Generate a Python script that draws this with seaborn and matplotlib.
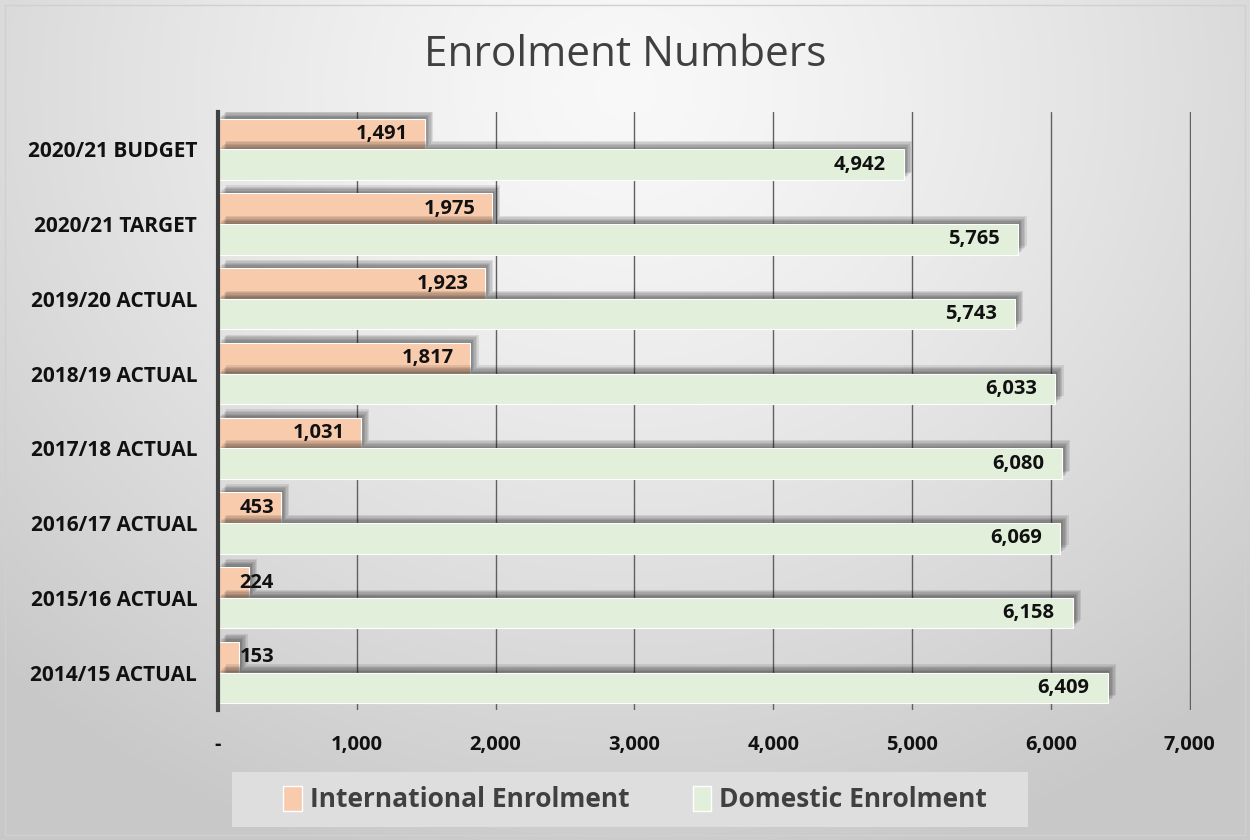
import numpy as np
import pandas as pd
import matplotlib
matplotlib.use("Agg")
import matplotlib.pyplot as plt
import matplotlib.patheffects as pe
from matplotlib.patches import Patch, Rectangle
import seaborn as sns

categories = ["2020/21 BUDGET", "2020/21 TARGET", "2019/20 ACTUAL", "2018/19 ACTUAL",
              "2017/18 ACTUAL", "2016/17 ACTUAL", "2015/16 ACTUAL", "2014/15 ACTUAL"]
international = [1491, 1975, 1923, 1817, 1031, 453, 224, 153]
domestic = [4942, 5765, 5743, 6033, 6080, 6069, 6158, 6409]
series_names = ["International Enrolment", "Domestic Enrolment"]
x_ticks = [0, 1000, 2000, 3000, 4000, 5000, 6000, 7000]
x_ticklabels = ["-", "1,000", "2,000", "3,000", "4,000", "5,000", "6,000", "7,000"]

colors = ["#F8CBAD", "#E2EFDA"]

df = pd.DataFrame({
    "cat": categories * 2,
    "value": international + domestic,
    "series": [series_names[0]] * len(categories) + [series_names[1]] * len(categories),
})

sns.set_style("white")
plt.rcParams["font.family"] = ["Open Sans", "DejaVu Sans"]

fig = plt.figure(figsize=(12.5, 8.4), dpi=100)

# background radial gradient
bg = fig.add_axes([0, 0, 1, 1], zorder=-10)
h, w = 840, 1250
yy, xx = np.mgrid[0:h, 0:w]
r = np.sqrt(((xx - 625) / 1.0) ** 2 + ((yy - 90) / 0.9) ** 2)
v = 0.975 - 0.19 * np.clip(r / 900, 0, 1) ** 1.3
img = np.dstack([v, v, v])
bg.imshow(img, extent=[0, 1, 0, 1], aspect="auto", origin="upper")
bg.set_axis_off()
bg.set_xlim(0, 1)
bg.set_ylim(0, 1)
bg.add_patch(Rectangle((0.004, 0.006), 0.992, 0.988, fill=False, edgecolor="#d0d0d0", lw=1.0,
                       transform=bg.transAxes))
# legend background box
bg.add_patch(Rectangle((0.1856, 0.0155), 0.6368, 0.0655, facecolor="#dedede", edgecolor="none",
                       transform=bg.transAxes, zorder=5))

ax = fig.add_axes([0.1744, 0.1548, 0.7784, 0.7119])
ax.patch.set_alpha(0)

sns.barplot(data=df, y="cat", x="value", hue="series", order=categories,
            hue_order=series_names, palette=colors, orient="h", ax=ax,
            width=0.82, saturation=1, legend=False, edgecolor="white", linewidth=0.8)

shadow = [pe.SimplePatchShadow(offset=(o, o), shadow_rgbFace="#000000", alpha=0.09) for o in (1, 2, 3, 4, 5, 6)]
for p in ax.patches:
    p.set_path_effects(shadow + [pe.Normal()])
    p.set_zorder(3)

ax.set_xlim(0, 7010)
ax.set_ylim(7.5, -0.5)
ax.set_xticks(x_ticks)
ax.set_xticklabels(x_ticklabels, fontsize=14.5, fontweight="bold", color="#111111")
ax.tick_params(axis="x", length=9, width=1.0, color="#555555", pad=9, direction="out")
ax.tick_params(axis="y", length=0, pad=15)
for lab in ax.get_yticklabels():
    lab.set_fontsize(15)
    lab.set_fontweight("bold")
    lab.set_color("#111111")
ax.set_xlabel("")
ax.set_ylabel("")
ax.xaxis.grid(True, color="#606060", lw=1.0, zorder=0)
ax.set_axisbelow(True)
for s in ["top", "right", "bottom"]:
    ax.spines[s].set_visible(False)
ax.spines["left"].set_color("#404040")
ax.spines["left"].set_linewidth(3)
ax.spines["left"].set_zorder(5)

# data labels
bw = 0.41
fs = 14.5
for i, val in enumerate(international):
    yc = i - bw / 2
    if val < 700:
        ax.text(155, yc, f"{val:,}", ha="left", va="center", fontsize=fs, fontweight="bold", color="#111111", zorder=6)
    else:
        ax.text(val - 120, yc, f"{val:,}", ha="right", va="center", fontsize=fs, fontweight="bold", color="#111111", zorder=6)
for i, val in enumerate(domestic):
    yc = i + bw / 2
    ax.text(val - 130, yc, f"{val:,}", ha="right", va="center", fontsize=fs, fontweight="bold", color="#111111", zorder=6)

fig.text(0.5, 0.935, "Enrolment Numbers", ha="center", va="center", fontsize=30.5, color="#404040")

handles = [Patch(facecolor=colors[0], edgecolor="white"), Patch(facecolor=colors[1], edgecolor="white")]
leg = fig.legend(handles, series_names, loc="center", bbox_to_anchor=(0.508, 0.048), ncol=2,
                 frameon=False, handlelength=0.7, handleheight=1.1,
                 handletextpad=0.3, columnspacing=2.4, borderpad=0.55,
                 prop={"family": ["Open Sans", "DejaVu Sans"], "weight": "bold", "size": 19})
leg.set_zorder(20)
for t in leg.get_texts():
    t.set_color("#404040")

fig.savefig("out.png", dpi=100)
